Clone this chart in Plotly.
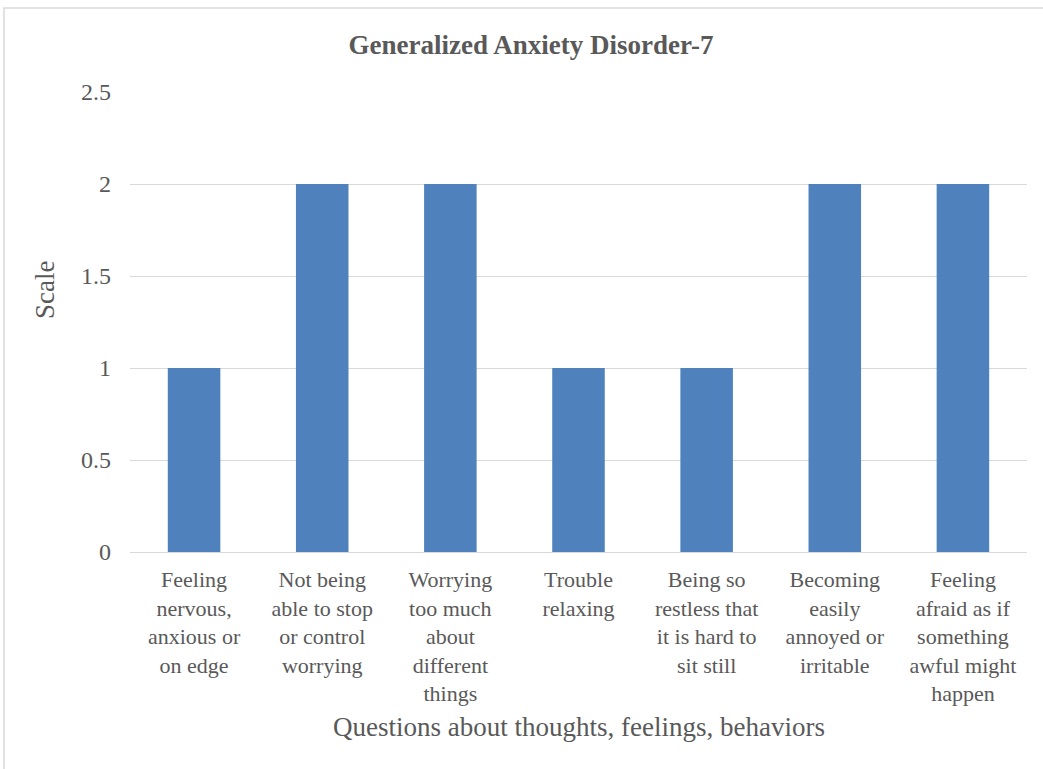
import plotly.graph_objects as go

categories = [
    "Feeling<br>nervous,<br>anxious or<br>on edge",
    "Not being<br>able to stop<br>or control<br>worrying",
    "Worrying<br>too much<br>about<br>different<br>things",
    "Trouble<br>relaxing",
    "Being so<br>restless that<br>it is hard to<br>sit still",
    "Becoming<br>easily<br>annoyed or<br>irritable",
    "Feeling<br>afraid as if<br>something<br>awful might<br>happen",
]
values = [1, 2, 2, 1, 1, 2, 2]
y_ticks = [0, 0.5, 1, 1.5, 2, 2.5]
y_tick_labels = ["0", "0.5", "1", "1.5", "2", "2.5"]

FONT = "Liberation Serif, Times New Roman, serif"
GREY = "#595959"

L, R, T, B = 130, 16, 92, 217
W, H = 1043, 769
pw, ph = W - L - R, H - T - B

fig = go.Figure(go.Bar(x=categories, y=values, marker_color="#4F81BD", marker_line_width=0))

fig.update_layout(
    width=W, height=H,
    margin=dict(l=L, r=R, t=T, b=B),
    paper_bgcolor="white", plot_bgcolor="white",
    bargap=0.59,
    showlegend=False,
    font=dict(family=FONT, color=GREY, size=22),
    title=dict(text="<b>Generalized Anxiety Disorder-7</b>", x=531 / W,
               xanchor="center", y=1 - 45 / H, yanchor="middle", yref="container",
               font=dict(family=FONT, size=27, color=GREY)),
    xaxis=dict(showgrid=False, showline=False, ticks="", tickfont=dict(size=22, color=GREY),
               tickangle=0, ticklabelstandoff=12),
    yaxis=dict(range=[0, 2.5], tickvals=y_ticks, ticktext=y_tick_labels, showgrid=True,
               gridcolor="#D9D9D9", gridwidth=1.3, zeroline=True, zerolinecolor="#D9D9D9",
               zerolinewidth=1.3, showline=False, ticks="", ticklabelstandoff=18,
               tickfont=dict(size=24, color=GREY)),
    annotations=[
        dict(text="Questions about thoughts, feelings, behaviors", x=0.5, xref="paper",
             y=(552 - 727) / ph, yref="paper", showarrow=False, xanchor="center", yanchor="middle",
             font=dict(family=FONT, size=27, color=GREY)),
        dict(text="Scale", x=(45 - L) / pw, xref="paper", y=(552 - 290) / ph, yref="paper",
             showarrow=False, textangle=-90, xanchor="center", yanchor="middle",
             font=dict(family=FONT, size=27, color=GREY)),
    ],
    shapes=[
        dict(type="rect", xref="paper", yref="paper",
             x0=(4 - L) / pw, x1=(W + 20 - L) / pw,
             y0=(552 - (H + 20)) / ph, y1=(552 - 8) / ph,
             line=dict(color="#D9D9D9", width=1.5), fillcolor="rgba(0,0,0,0)", layer="below"),
    ],
)

fig.write_html("out.html", config={"displayModeBar": False},
               post_script="document.body.style.margin='0';")
